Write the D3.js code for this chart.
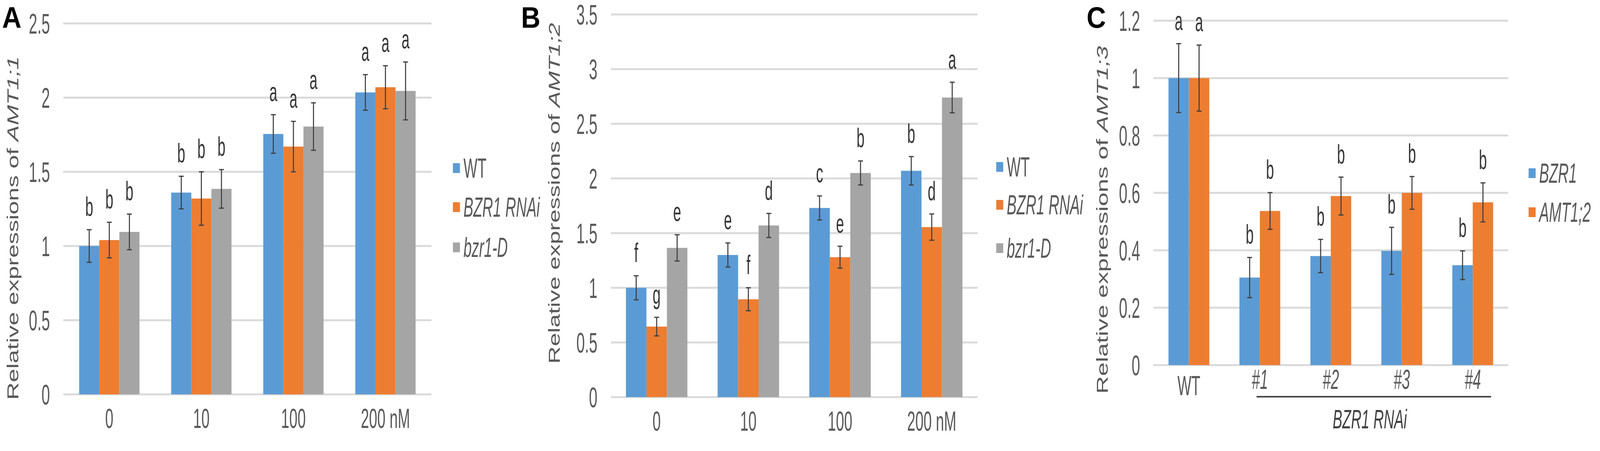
<!DOCTYPE html>
<html>
<head>
<meta charset="utf-8">
<script src="https://cdn.jsdelivr.net/npm/d3@7"></script>
<style>
  html, body { margin: 0; padding: 0; width: 100%; height: 100%; overflow: hidden; background: #ffffff; }
  #fig { display: block; width: 100vw; height: 100vh; }
  svg text { font-family: "Liberation Sans", Arial, sans-serif; }
</style>
</head>
<body>
<svg id="fig" viewBox="0 0 4550 1155" preserveAspectRatio="none"></svg>
<script>
// ---- data ----
var doseLabels = ["0", "10", "100", "200 nM"];
var abSeries = ["WT", "BZR1 RNAi", "bzr1-D"];

// A: AMT1;1
var a_wt      = [1.00, 1.36, 1.755, 2.035];
var a_wtErr   = [0.11, 0.11, 0.13, 0.12];
var a_rnai    = [1.04, 1.32, 1.67, 2.07];
var a_rnaiErr = [0.12, 0.18, 0.17, 0.145];
var a_d       = [1.095, 1.385, 1.805, 2.045];
var a_dErr    = [0.12, 0.13, 0.16, 0.195];
var a_letters = [["b", "b", "a", "a"], ["b", "b", "a", "a"], ["b", "b", "a", "a"]];
var a_ticks   = [0, 0.5, 1, 1.5, 2, 2.5];

// B: AMT1;2
var b_wt      = [1.00, 1.30, 1.73, 2.07];
var b_wtErr   = [0.11, 0.11, 0.11, 0.13];
var b_rnai    = [0.645, 0.895, 1.28, 1.555];
var b_rnaiErr = [0.085, 0.105, 0.10, 0.12];
var b_d       = [1.365, 1.57, 2.05, 2.74];
var b_dErr    = [0.12, 0.11, 0.11, 0.14];
var b_letters = [["f", "e", "c", "b"], ["g", "f", "e", "d"], ["e", "d", "b", "a"]];
var b_ticks   = [0, 0.5, 1, 1.5, 2, 2.5, 3, 3.5];

// C: AMT1;3
var lineLabels = ["WT", "#1", "#2", "#3", "#4"];
var cSeries    = ["BZR1", "AMT1;2"];
var c_bzr1     = [1.00, 0.305, 0.38, 0.398, 0.348];
var c_bzr1Err  = [0.12, 0.07, 0.058, 0.082, 0.05];
var c_amt      = [1.00, 0.537, 0.589, 0.60, 0.567];
var c_amtErr   = [0.115, 0.064, 0.066, 0.057, 0.068];
var c_letters  = [["a", "b", "b", "b", "b"], ["a", "b", "b", "b", "b"]];
var c_ticks    = [0, 0.2, 0.4, 0.6, 0.8, 1, 1.2];

var colors = ["#5b9bd5", "#ed7d31", "#a5a5a5"];
var SX = 0.6;   // the source figure is squeezed horizontally
var svg = d3.select("#fig");

function drawPanel(cfg) {
  var g = svg.append("g");
  var y = d3.scaleLinear().domain([0, cfg.ticks[cfg.ticks.length - 1]]).range([cfg.y0, cfg.y1]);
  var x = d3.scaleBand().domain(cfg.cats).range([cfg.x0, cfg.x1])
            .paddingInner(cfg.pad).paddingOuter(cfg.pad / 2);
  var xs = d3.scaleBand().domain(cfg.series).range([0, x.bandwidth()]);

  // gridlines
  g.selectAll(".grid").data(cfg.ticks).enter().append("line")
    .attr("x1", cfg.x0).attr("x2", cfg.x1)
    .attr("y1", function(d) { return y(d); }).attr("y2", function(d) { return y(d); })
    .attr("stroke", "#dadada").attr("stroke-width", 5);

  // y axis
  var ya = g.append("g").attr("transform", "translate(" + cfg.x0 + ",0)")
    .call(d3.axisLeft(y).tickValues(cfg.ticks).tickSize(0).tickFormat(d3.format("~g")));
  ya.select(".domain").remove();
  ya.selectAll("text")
    .attr("x", -38 / SX).attr("dy", "0.36em")
    .attr("transform", "scale(" + SX + ",1)")
    .attr("font-size", 72).attr("fill", "#595959")
    .attr("font-family", "Liberation Sans, Arial, sans-serif");

  // x axis
  var xa = g.append("g").attr("transform", "translate(0," + cfg.y0 + ")")
    .call(d3.axisBottom(x).tickSize(0).tickPadding(0));
  xa.select(".domain").remove();
  xa.selectAll(".tick").each(function(d) {
    var t = d3.select(this).select("text");
    var it = cfg.italicX && d.charAt(0) === "#";
    t.attr("y", it ? cfg.xPadItalic : cfg.xPad).attr("dy", "0.71em")
     .attr("x", 0)
     .attr("transform", "scale(" + SX + ",1)")
     .attr("font-size", 70).attr("fill", "#595959")
     .attr("font-style", it ? "italic" : null)
     .attr("font-family", "Liberation Sans, Arial, sans-serif");
  });

  // bars, error bars, letters
  cfg.values.forEach(function(vals, si) {
    var errs = cfg.errors[si];
    var sg = g.append("g");
    sg.selectAll("rect").data(vals).enter().append("rect")
      .attr("x", function(d, i) { return x(cfg.cats[i]) + xs(cfg.series[si]); })
      .attr("width", xs.bandwidth())
      .attr("y", function(d) { return y(d); })
      .attr("height", function(d) { return cfg.y0 - y(d); })
      .attr("fill", colors[si]);
    vals.forEach(function(v, i) {
      var cx = x(cfg.cats[i]) + xs(cfg.series[si]) + xs.bandwidth() / 2;
      var e = errs[i];
      sg.append("line").attr("x1", cx).attr("x2", cx)
        .attr("y1", y(v - e)).attr("y2", y(v + e));
      [v - e, v + e].forEach(function(w) {
        sg.append("line").attr("x1", cx - 7).attr("x2", cx + 7)
          .attr("y1", y(w)).attr("y2", y(w));
      });
      sg.append("text")
        .attr("transform", "translate(" + cx + "," + (y(v + e) - 35) + ") scale(" + SX + ",1)")
        .attr("text-anchor", "middle").attr("font-size", 68).attr("fill", "#363636")
        .text(cfg.letters[si][i]);
    });
    sg.selectAll("line").attr("stroke", "#3f3f3f").attr("stroke-width", 3);
  });

  // y title
  var tt = g.append("text")
    .attr("transform", "translate(" + cfg.titleX + "," + cfg.titleY + ") scale(0.72,1) rotate(-90)")
    .attr("text-anchor", "middle").attr("font-size", 64).attr("fill", "#595959")
    .attr("textLength", cfg.titleLen).attr("lengthAdjust", "spacingAndGlyphs");
  tt.append("tspan").text("Relative expressions of ");
  tt.append("tspan").attr("font-style", "italic").text(cfg.gene);

  // panel letter
  svg.append("text").attr("x", cfg.letterX).attr("y", 71)
    .attr("font-size", 76).attr("font-weight", "bold").attr("fill", "#000")
    .text(cfg.letter);

  // legend
  cfg.series.forEach(function(s, si) {
    var ly = cfg.legendY[si];
    g.append("rect").attr("x", cfg.legendX).attr("y", ly - 12)
      .attr("width", 20).attr("height", 25).attr("fill", colors[si]);
    g.append("text")
      .attr("transform", "translate(" + (cfg.legendX + 30) + "," + (ly + 25) + ") scale(" + SX + ",1)")
      .attr("font-size", 70).attr("fill", "#595959")
      .attr("font-style", s === "WT" ? null : "italic")
      .text(s);
  });
  return { g: g, x: x, y: y };
}

drawPanel({
  letter: "A", letterX: 6, gene: "AMT1;1",
  cats: doseLabels, series: abSeries,
  values: [a_wt, a_rnai, a_d], errors: [a_wtErr, a_rnaiErr, a_dErr], letters: a_letters,
  ticks: a_ticks, x0: 180, x1: 1227, y0: 1010, y1: 60, pad: 0.345,
  xPad: 36,
  titleX: 52, titleY: 584, titleLen: 880,
  legendX: 1288, legendY: [430, 530, 633]
});

drawPanel({
  letter: "B", letterX: 1482, gene: "AMT1;2",
  cats: doseLabels, series: abSeries,
  values: [b_wt, b_rnai, b_d], errors: [b_wtErr, b_rnaiErr, b_dErr], letters: b_letters,
  ticks: b_ticks, x0: 1737, x1: 2780, y0: 1017, y1: 37, pad: 0.33,
  xPad: 36,
  titleX: 1592, titleY: 495, titleLen: 873,
  legendX: 2833, legendY: [427, 524, 635]
});

var pc = drawPanel({
  letter: "C", letterX: 3090, gene: "AMT1;3",
  cats: lineLabels, series: cSeries,
  values: [c_bzr1, c_amt], errors: [c_bzr1Err, c_amtErr], letters: c_letters,
  ticks: c_ticks, x0: 3280, x1: 4289, y0: 935, y1: 53, pad: 0.425,
  italicX: true, xPad: 27, xPadItalic: 11,
  titleX: 3150, titleY: 563, titleLen: 891,
  legendX: 4347, legendY: [443, 543]
});

// C: bracket under the RNAi lines
var bw = pc.x.bandwidth();
pc.g.append("line")
  .attr("x1", pc.x("#1") + bw * 0.42).attr("x2", pc.x("#4") + bw * 0.95)
  .attr("y1", 1016).attr("y2", 1016)
  .attr("stroke", "#454545").attr("stroke-width", 4);
pc.g.append("text")
  .attr("transform", "translate(" + ((pc.x("#1") + pc.x("#4") + bw) / 2 + 10) + ",1097) scale(" + SX + ",1)")
  .attr("text-anchor", "middle").attr("font-size", 68).attr("font-style", "italic")
  .attr("fill", "#404040").text("BZR1 RNAi");
</script>
</body>
</html>
